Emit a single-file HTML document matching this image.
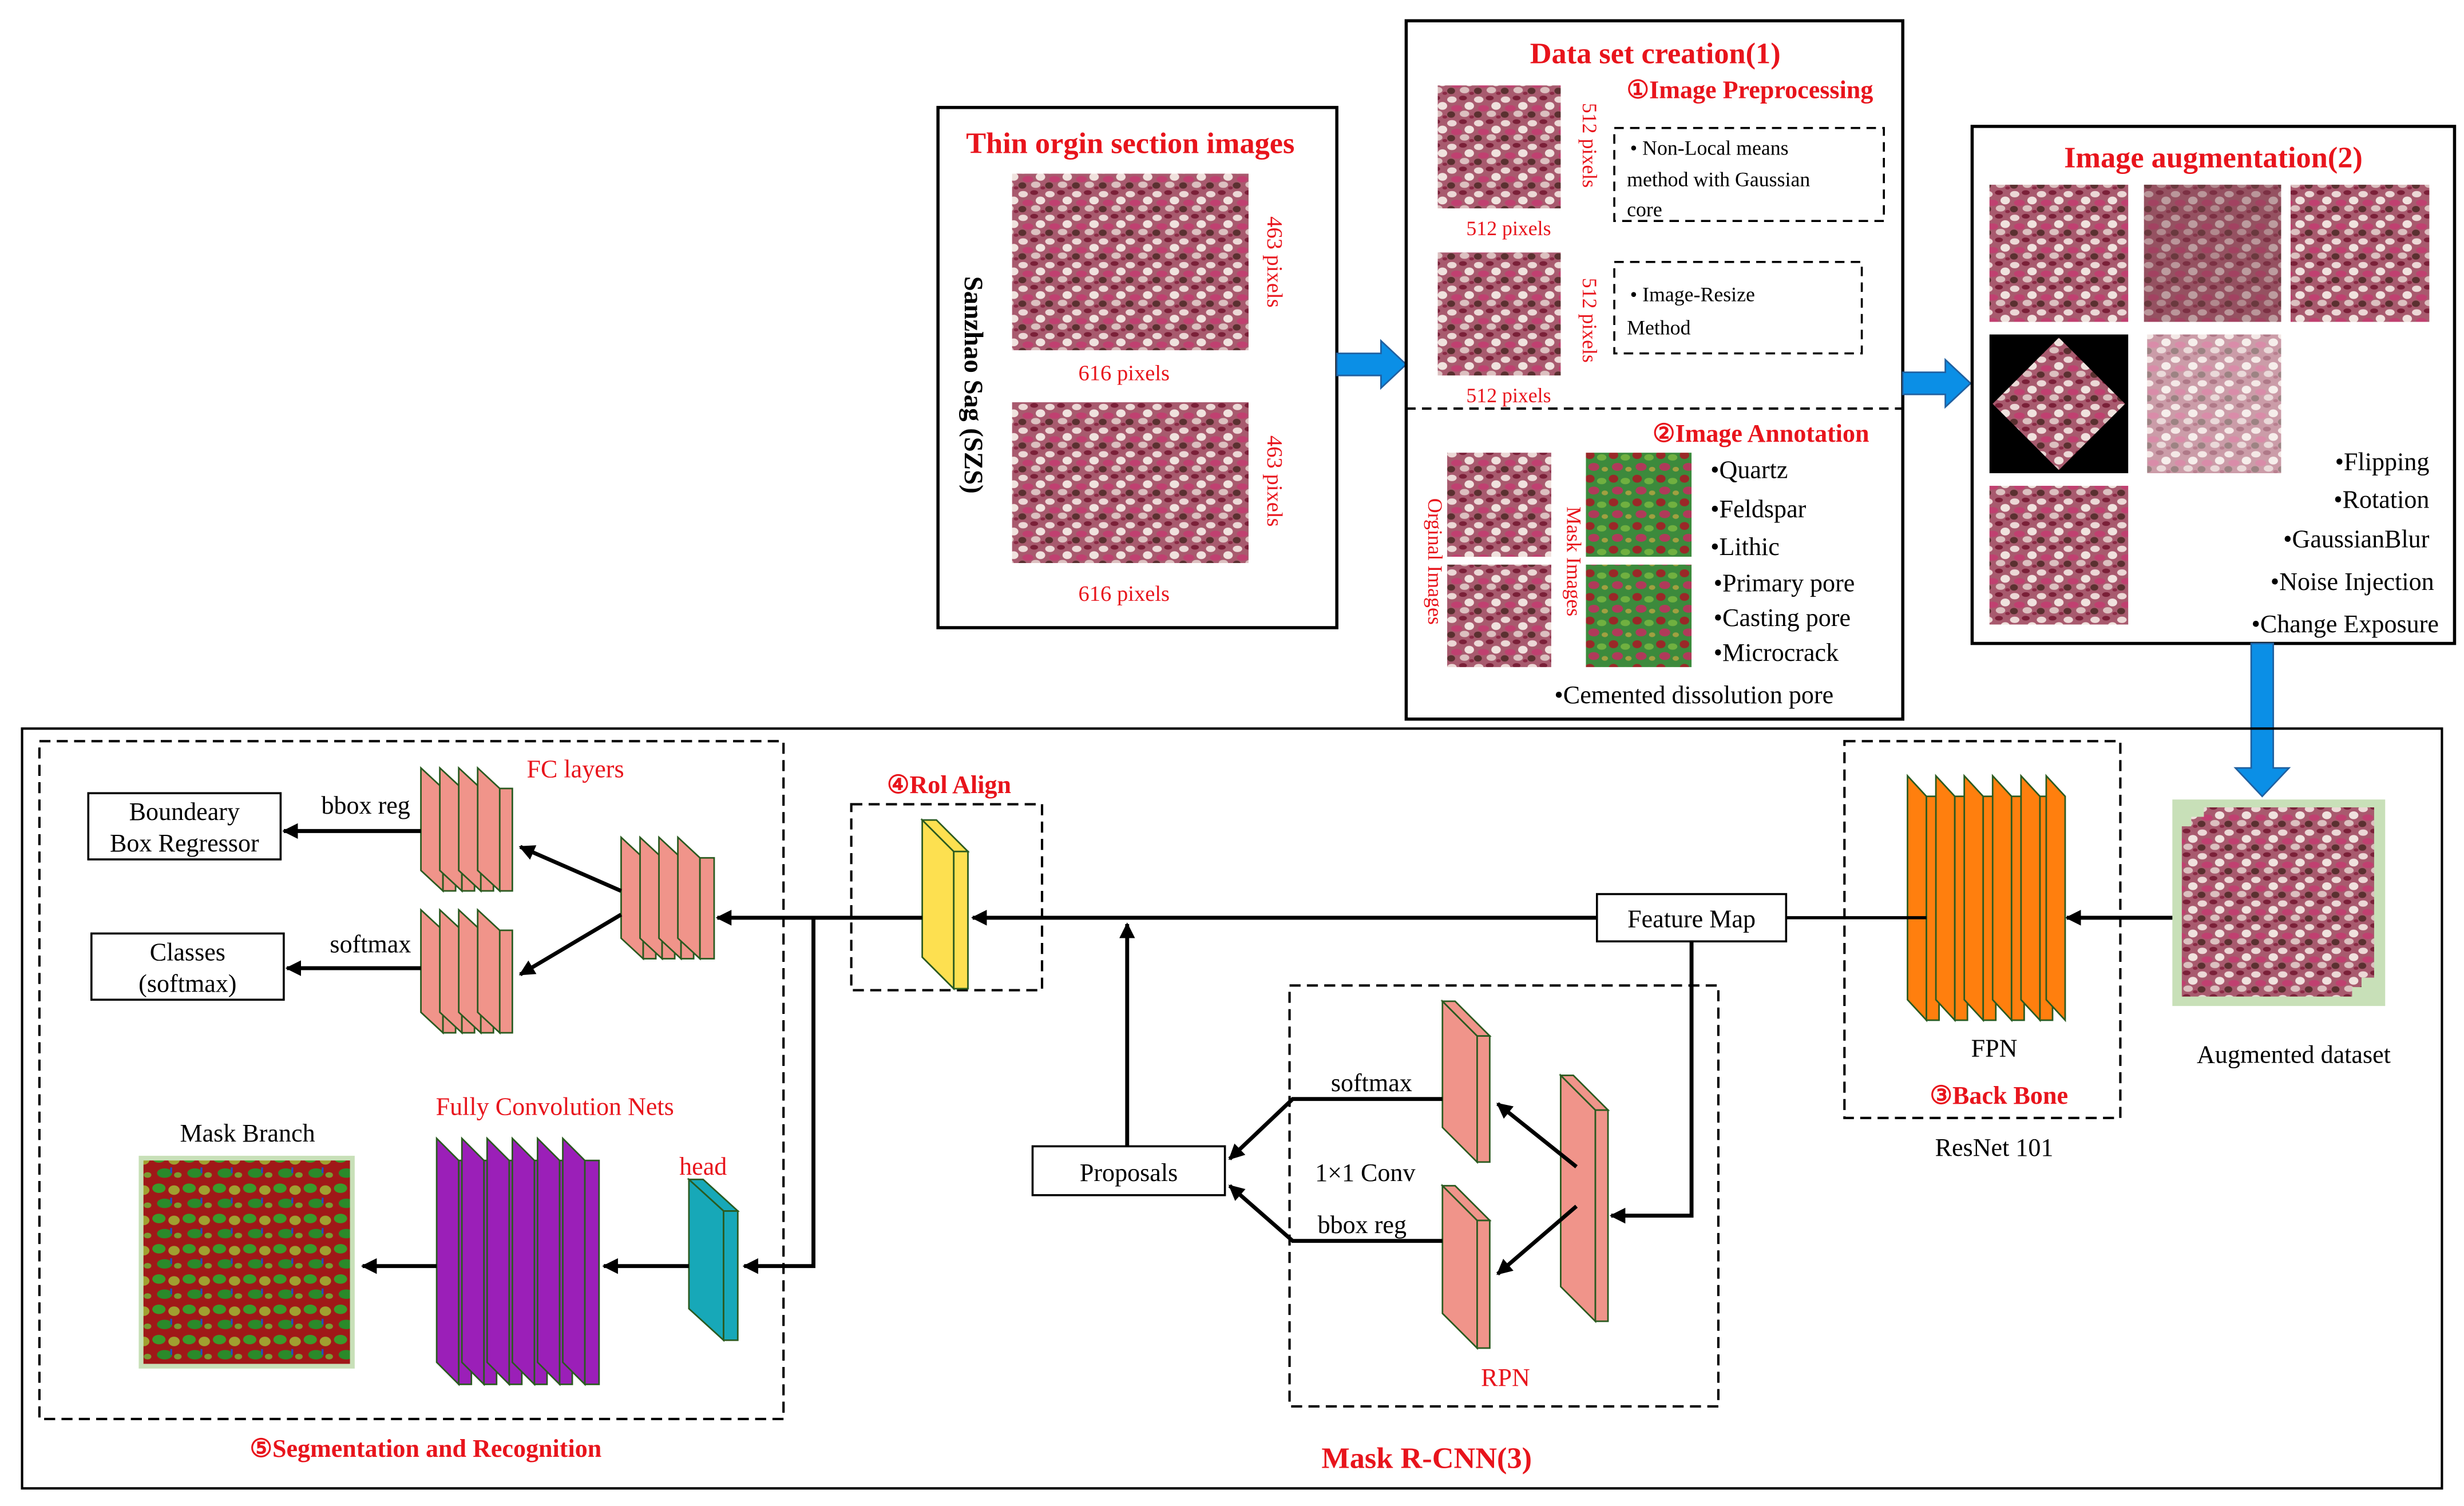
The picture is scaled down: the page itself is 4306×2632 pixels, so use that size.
<!DOCTYPE html>
<html><head><meta charset="utf-8"><style>
html,body{margin:0;padding:0;background:#fff;}
svg{display:block;}
text{font-family:"Liberation Serif",serif;}
.r{fill:#e8141c;}
.rb{fill:#e8141c;font-weight:bold;}
</style></head><body>
<svg width="4306" height="2632" viewBox="0 0 1563 955" xmlns="http://www.w3.org/2000/svg">
<defs>
<pattern id="rock" width="34" height="30" patternUnits="userSpaceOnUse" patternTransform="scale(0.5)">
<rect width="34" height="30" fill="#a85a6e"/>
<ellipse cx="6" cy="6" rx="6" ry="4" fill="#ecd8d6"/>
<ellipse cx="20" cy="4" rx="5" ry="3" fill="#7a2038"/>
<ellipse cx="28" cy="14" rx="6" ry="5" fill="#f0e2de"/>
<ellipse cx="12" cy="17" rx="7" ry="4" fill="#c04070"/>
<ellipse cx="5" cy="25" rx="5" ry="4" fill="#5a3030"/>
<ellipse cx="22" cy="24" rx="6" ry="4" fill="#dcc0c0"/>
<ellipse cx="31" cy="28" rx="3" ry="2" fill="#8a2a45"/>
</pattern>
<pattern id="maskp" width="30" height="30" patternUnits="userSpaceOnUse" patternTransform="scale(0.5)">
<rect width="30" height="30" fill="#3c8a3c"/>
<ellipse cx="7" cy="7" rx="6" ry="5" fill="#9a2828"/>
<ellipse cx="22" cy="10" rx="6" ry="4" fill="#70b040"/>
<ellipse cx="12" cy="22" rx="7" ry="5" fill="#b03a5a"/>
<ellipse cx="26" cy="25" rx="4" ry="3" fill="#a0a040"/>
</pattern>
<pattern id="segp" width="32" height="32" patternUnits="userSpaceOnUse" patternTransform="scale(0.6)">
<rect width="32" height="32" fill="#a01818"/>
<ellipse cx="8" cy="8" rx="7" ry="5" fill="#3a9a2a"/>
<ellipse cx="24" cy="10" rx="6" ry="5" fill="#a0a030"/>
<ellipse cx="14" cy="24" rx="8" ry="5" fill="#2a8a2a"/>
<ellipse cx="28" cy="26" rx="4" ry="3" fill="#7a9a30"/>
<rect x="20" y="18" width="2" height="6" fill="#2050c0"/>
</pattern>
<marker id="ah" markerWidth="10" markerHeight="10" refX="9" refY="5" orient="auto" markerUnits="userSpaceOnUse">
<path d="M0,0 L10,5 L0,10 Z" fill="#000"/></marker>
</defs>

<!-- Thin origin box -->
<rect x="595" y="68" width="253" height="330" fill="none" stroke="#000" stroke-width="2"/>
<text x="717" y="97" text-anchor="middle" class="rb" font-size="19">Thin orgin section images</text>
<rect x="642" y="110" width="150" height="112" fill="url(#rock)"/>
<rect x="642" y="255" width="150" height="102" fill="url(#rock)"/>
<text x="713" y="241" text-anchor="middle" class="r" font-size="14">616 pixels</text>
<text x="713" y="381" text-anchor="middle" class="r" font-size="14">616 pixels</text>
<text transform="translate(804,166) rotate(90)" text-anchor="middle" class="r" font-size="14">463 pixels</text>
<text transform="translate(804,305) rotate(90)" text-anchor="middle" class="r" font-size="14">463 pixels</text>
<text transform="translate(612,244) rotate(90)" text-anchor="middle" font-size="17" font-weight="bold">Sanzhao Sag (SZS)</text>

<!-- blue arrow 1 -->
<polygon points="848,224 876,224 876,216 892,231 876,246 876,238 848,238" fill="#0b8fe6" stroke="#2060a0" stroke-width="1"/>

<!-- Data set box -->
<rect x="892" y="13" width="315" height="443" fill="none" stroke="#000" stroke-width="2"/>
<line x1="892" y1="259" x2="1207" y2="259" stroke="#000" stroke-width="1.5" stroke-dasharray="6,4"/>
<text x="1050" y="40" text-anchor="middle" class="rb" font-size="19">Data set creation(1)</text>
<text x="1110" y="62" text-anchor="middle" class="rb" font-size="16">①Image Preprocessing</text>
<rect x="912" y="54" width="78" height="78" fill="url(#rock)"/>
<rect x="912" y="160" width="78" height="78" fill="url(#rock)"/>
<text x="957" y="149" text-anchor="middle" class="r" font-size="13">512 pixels</text>
<text x="957" y="255" text-anchor="middle" class="r" font-size="13">512 pixels</text>
<text transform="translate(1004,92) rotate(90)" text-anchor="middle" class="r" font-size="13">512 pixels</text>
<text transform="translate(1004,203) rotate(90)" text-anchor="middle" class="r" font-size="13">512 pixels</text>
<rect x="1024" y="81" width="171" height="59" fill="none" stroke="#000" stroke-width="1.3" stroke-dasharray="6,4"/>
<text x="1034" y="98" font-size="13">•  Non-Local means</text>
<text x="1032" y="118" font-size="13">method with Gaussian</text>
<text x="1032" y="137" font-size="13">core</text>
<rect x="1024" y="166" width="157" height="58" fill="none" stroke="#000" stroke-width="1.3" stroke-dasharray="6,4"/>
<text x="1034" y="191" font-size="13">•  Image-Resize</text>
<text x="1032" y="212" font-size="13">Method</text>
<text x="1117" y="280" text-anchor="middle" class="rb" font-size="16">②Image Annotation</text>
<rect x="918" y="287" width="66" height="66" fill="url(#rock)"/>
<rect x="918" y="358" width="66" height="65" fill="url(#rock)"/>
<rect x="1006" y="287" width="67" height="66" fill="url(#maskp)"/>
<rect x="1006" y="358" width="67" height="65" fill="url(#maskp)"/>
<text transform="translate(906,356) rotate(90)" text-anchor="middle" class="r" font-size="13">Orginal Images</text>
<text transform="translate(994,356) rotate(90)" text-anchor="middle" class="r" font-size="13">Mask Images</text>
<g font-size="16">
<text x="1085" y="303">•Quartz</text>
<text x="1085" y="328">•Feldspar</text>
<text x="1085" y="352">•Lithic</text>
<text x="1087" y="375">•Primary pore</text>
<text x="1087" y="397">•Casting pore</text>
<text x="1087" y="419">•Microcrack</text>
<text x="986" y="446">•Cemented dissolution pore</text>
</g>

<!-- blue arrow 2 -->
<polygon points="1207,236 1234,236 1234,228 1250,243 1234,258 1234,250 1207,250" fill="#0b8fe6" stroke="#2060a0" stroke-width="1"/>

<!-- Augmentation box -->
<rect x="1251" y="80" width="306" height="328" fill="none" stroke="#000" stroke-width="2"/>
<text x="1404" y="106" text-anchor="middle" class="rb" font-size="19">Image augmentation(2)</text>
<rect x="1262" y="117" width="88" height="87" fill="url(#rock)"/>
<rect x="1360" y="117" width="87" height="87" fill="url(#rock)" opacity="0.85"/>
<rect x="1360" y="117" width="87" height="87" fill="#5a1020" opacity="0.35"/>
<rect x="1453" y="117" width="88" height="87" fill="url(#rock)"/>
<rect x="1262" y="212" width="88" height="88" fill="#000"/>
<polygon points="1306,214 1348,256 1306,298 1264,256" fill="url(#rock)"/>
<rect x="1362" y="212" width="85" height="88" fill="url(#rock)" opacity="0.6"/>
<rect x="1262" y="308" width="88" height="88" fill="url(#rock)"/>
<g font-size="16" text-anchor="end">
<text x="1541" y="298">•Flipping</text>
<text x="1541" y="322">•Rotation</text>
<text x="1541" y="347">•GaussianBlur</text>
<text x="1544" y="374">•Noise Injection</text>
<text x="1547" y="401">•Change Exposure</text>
</g>

<!-- down blue arrow -->
<polygon points="1428,408 1442,408 1442,487 1452,487 1435,505 1418,487 1428,487" fill="#0b8fe6" stroke="#2060a0" stroke-width="1"/>

<!-- Mask R-CNN box -->
<rect x="14" y="462" width="1535" height="482" fill="none" stroke="#000" stroke-width="1.5"/>
<text x="905" y="931" text-anchor="middle" class="rb" font-size="19">Mask R-CNN(3)</text>

<!-- Augmented dataset -->
<rect x="1378" y="507" width="135" height="131" fill="#c8e0b8"/>
<rect x="1398" y="512" width="108" height="108" fill="url(#rock)"/>
<rect x="1390" y="518" width="108" height="108" fill="url(#rock)"/>
<rect x="1384" y="524" width="108" height="108" fill="url(#rock)"/>
<text x="1455" y="674" text-anchor="middle" font-size="16">Augmented dataset</text>
<line x1="1378" y1="582" x2="1311" y2="582" stroke="#000" stroke-width="2.5" marker-end="url(#ah)"/>

<!-- Back bone -->
<rect x="1170" y="470" width="175" height="239" fill="none" stroke="#000" stroke-width="1.5" stroke-dasharray="7,4"/>
<g fill="#ff7f0e" stroke="#2a5a20" stroke-width="1">
<polygon points="1210,492 1222,505 1222,647 1210,634"/>
<polygon points="1222,505 1230,505 1230,647 1222,647"/>
<polygon points="1228,492 1240,505 1240,647 1228,634"/>
<polygon points="1240,505 1248,505 1248,647 1240,647"/>
<polygon points="1246,492 1258,505 1258,647 1246,634"/>
<polygon points="1258,505 1266,505 1266,647 1258,647"/>
<polygon points="1264,492 1276,505 1276,647 1264,634"/>
<polygon points="1276,505 1284,505 1284,647 1276,647"/>
<polygon points="1282,492 1294,505 1294,647 1282,634"/>
<polygon points="1294,505 1302,505 1302,647 1294,647"/>
<polygon points="1298,492 1310,505 1310,647 1298,634"/>
</g>
<text x="1265" y="670" text-anchor="middle" font-size="16">FPN</text>
<text x="1268" y="700" text-anchor="middle" class="rb" font-size="16">③Back Bone</text>
<text x="1265" y="733" text-anchor="middle" font-size="16">ResNet 101</text>

<!-- Feature map -->
<line x1="1222" y1="582" x2="1133" y2="582" stroke="#000" stroke-width="2"/>
<rect x="1013" y="567" width="120" height="30" fill="#fff" stroke="#000" stroke-width="1.3"/>
<text x="1073" y="588" text-anchor="middle" font-size="16">Feature Map</text>
<line x1="1013" y1="582" x2="617" y2="582" stroke="#000" stroke-width="2.5" marker-end="url(#ah)"/>

<!-- RoI Align -->
<rect x="540" y="510" width="121" height="118" fill="none" stroke="#000" stroke-width="1.5" stroke-dasharray="7,4"/>
<text x="602" y="503" text-anchor="middle" class="rb" font-size="16">④Rol Align</text>
<polygon points="585,520 605,540 605,627 585,607" fill="#fde050" stroke="#2a5a20"/>
<polygon points="605,540 614,540 614,627 605,627" fill="#fde050" stroke="#2a5a20"/>
<polygon points="585,520 594,520 614,540 605,540" fill="#fde050" stroke="#2a5a20"/>
<line x1="585" y1="582" x2="455" y2="582" stroke="#000" stroke-width="2.5" marker-end="url(#ah)"/>
<polyline points="516,582 516,803 472,803" fill="none" stroke="#000" stroke-width="2.5" marker-end="url(#ah)"/>
<line x1="715" y1="727" x2="715" y2="586" stroke="#000" stroke-width="2.5" marker-end="url(#ah)"/>

<!-- Proposals -->
<rect x="655" y="727" width="122" height="31" fill="#fff" stroke="#000" stroke-width="1.3"/>
<text x="716" y="749" text-anchor="middle" font-size="16">Proposals</text>

<!-- RPN -->
<rect x="818" y="625" width="272" height="267" fill="none" stroke="#000" stroke-width="1.5" stroke-dasharray="7,4"/>
<polyline points="1073,597 1073,771 1022,771" fill="none" stroke="#000" stroke-width="2.5" marker-end="url(#ah)"/>
<g fill="#f0948a" stroke="#2a5a20" stroke-width="1">
<polygon points="990,682 1012,704 1012,838 990,816"/>
<polygon points="1012,704 1020,704 1020,838 1012,838"/>
<polygon points="990,682 998,682 1020,704 1012,704"/>
<polygon points="915,635 937,657 937,737 915,715"/>
<polygon points="937,657 945,657 945,737 937,737"/>
<polygon points="915,635 923,635 945,657 937,657"/>
<polygon points="915,752 937,774 937,855 915,833"/>
<polygon points="937,774 945,774 945,855 937,855"/>
<polygon points="915,752 923,752 945,774 937,774"/>
</g>
<line x1="1000" y1="740" x2="950" y2="700" stroke="#000" stroke-width="2.5" marker-end="url(#ah)"/>
<line x1="1000" y1="765" x2="950" y2="808" stroke="#000" stroke-width="2.5" marker-end="url(#ah)"/>
<polyline points="915,697 820,697 780,735" fill="none" stroke="#000" stroke-width="2.5" marker-end="url(#ah)"/>
<polyline points="915,787 820,787 780,752" fill="none" stroke="#000" stroke-width="2.5" marker-end="url(#ah)"/>
<text x="870" y="692" text-anchor="middle" font-size="16">softmax</text>
<text x="866" y="749" text-anchor="middle" font-size="16">1×1 Conv</text>
<text x="864" y="782" text-anchor="middle" font-size="16">bbox reg</text>
<text x="955" y="879" text-anchor="middle" class="r" font-size="16">RPN</text>

<!-- Segmentation box -->
<rect x="25" y="470" width="472" height="430" fill="none" stroke="#000" stroke-width="1.5" stroke-dasharray="7,4"/>
<text x="270" y="924" text-anchor="middle" class="rb" font-size="16">⑤Segmentation and Recognition</text>
<text x="365" y="493" text-anchor="middle" class="r" font-size="16">FC layers</text>
<g fill="#f0948a" stroke="#2a5a20" stroke-width="1">
<polygon points="267,487 281,500 281,565 267,552"/><polygon points="281,500 289,500 289,565 281,565"/>
<polygon points="279,487 293,500 293,565 279,552"/><polygon points="293,500 301,500 301,565 293,565"/>
<polygon points="291,487 305,500 305,565 291,552"/><polygon points="305,500 313,500 313,565 305,565"/>
<polygon points="303,487 317,500 317,565 303,552"/><polygon points="317,500 325,500 325,565 317,565"/>
<polygon points="267,577 281,590 281,655 267,642"/><polygon points="281,590 289,590 289,655 281,655"/>
<polygon points="279,577 293,590 293,655 279,642"/><polygon points="293,590 301,590 301,655 293,655"/>
<polygon points="291,577 305,590 305,655 291,642"/><polygon points="305,590 313,590 313,655 305,655"/>
<polygon points="303,577 317,590 317,655 303,642"/><polygon points="317,590 325,590 325,655 317,655"/>
<polygon points="394,531 408,544 408,608 394,595"/><polygon points="408,544 416,544 416,608 408,608"/>
<polygon points="406,531 420,544 420,608 406,595"/><polygon points="420,544 428,544 428,608 420,608"/>
<polygon points="418,531 432,544 432,608 418,595"/><polygon points="432,544 440,544 440,608 432,608"/>
<polygon points="430,531 444,544 444,608 430,595"/><polygon points="444,544 453,544 453,608 444,608"/>
</g>
<line x1="394" y1="565" x2="330" y2="537" stroke="#000" stroke-width="2.5" marker-end="url(#ah)"/>
<line x1="394" y1="580" x2="330" y2="618" stroke="#000" stroke-width="2.5" marker-end="url(#ah)"/>
<line x1="267" y1="527" x2="180" y2="527" stroke="#000" stroke-width="2.5" marker-end="url(#ah)"/>
<line x1="267" y1="614" x2="182" y2="614" stroke="#000" stroke-width="2.5" marker-end="url(#ah)"/>
<text x="232" y="516" text-anchor="middle" font-size="16">bbox reg</text>
<text x="235" y="604" text-anchor="middle" font-size="16">softmax</text>
<rect x="56" y="503" width="122" height="42" fill="#fff" stroke="#000" stroke-width="1.3"/>
<text x="117" y="520" text-anchor="middle" font-size="16">Boundeary</text>
<text x="117" y="540" text-anchor="middle" font-size="16">Box Regressor</text>
<rect x="58" y="592" width="122" height="42" fill="#fff" stroke="#000" stroke-width="1.3"/>
<text x="119" y="609" text-anchor="middle" font-size="16">Classes</text>
<text x="119" y="629" text-anchor="middle" font-size="16">(softmax)</text>

<!-- Mask branch -->
<text x="157" y="724" text-anchor="middle" font-size="16">Mask Branch</text>
<rect x="88" y="733" width="137" height="135" fill="#c8e0b8"/>
<rect x="91" y="736" width="131" height="129" fill="url(#segp)"/>
<text x="352" y="707" text-anchor="middle" class="r" font-size="16">Fully Convolution Nets</text>
<g fill="#9b1fb8" stroke="#2a5a20" stroke-width="1">
<polygon points="277,722 291,736 291,878 277,864"/><polygon points="291,736 299,736 299,878 291,878"/>
<polygon points="293,722 307,736 307,878 293,864"/><polygon points="307,736 315,736 315,878 307,878"/>
<polygon points="309,722 323,736 323,878 309,864"/><polygon points="323,736 331,736 331,878 323,878"/>
<polygon points="325,722 339,736 339,878 325,864"/><polygon points="339,736 347,736 347,878 339,878"/>
<polygon points="341,722 355,736 355,878 341,864"/><polygon points="355,736 363,736 363,878 355,878"/>
<polygon points="357,722 371,736 371,878 357,864"/><polygon points="371,736 380,736 380,878 371,878"/>
</g>
<text x="446" y="745" text-anchor="middle" class="r" font-size="16">head</text>
<g fill="#17a8b8" stroke="#2a5a20" stroke-width="1">
<polygon points="437,748 459,768 459,850 437,830"/>
<polygon points="459,768 468,768 468,850 459,850"/>
<polygon points="437,748 446,748 468,768 459,768"/>
</g>
<line x1="437" y1="803" x2="383" y2="803" stroke="#000" stroke-width="2.5" marker-end="url(#ah)"/>
<line x1="277" y1="803" x2="230" y2="803" stroke="#000" stroke-width="2.5" marker-end="url(#ah)"/>
</svg>
</body></html>
